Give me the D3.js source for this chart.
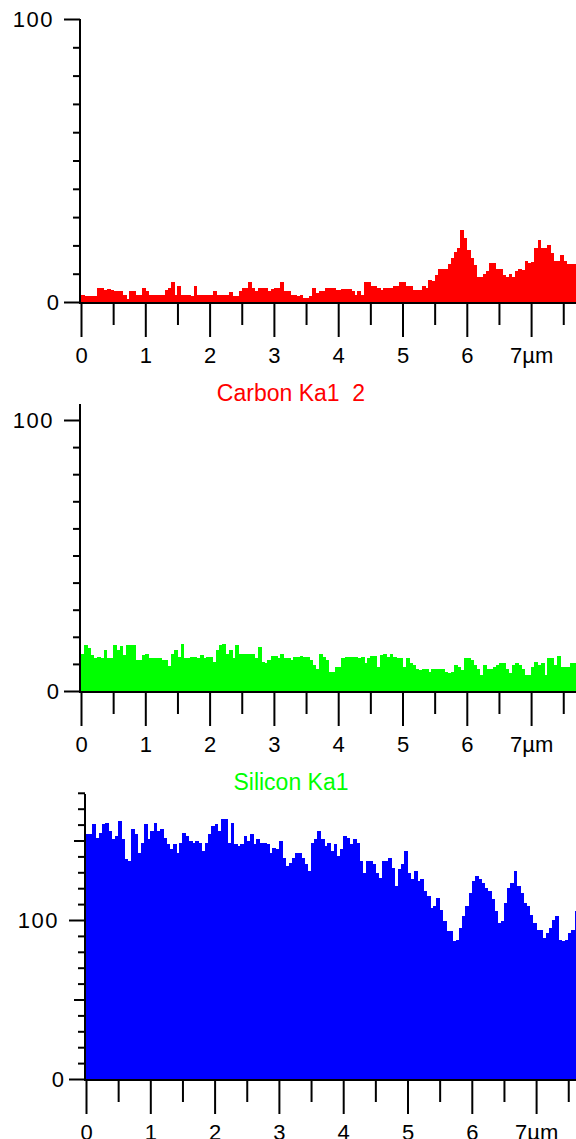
<!DOCTYPE html>
<html><head><meta charset="utf-8">
<script src="https://cdn.jsdelivr.net/npm/d3@7"></script>
<style>html,body{margin:0;padding:0;background:#fff;} svg{display:block;}</style>
</head><body>
<script>
// ---- data ----
const xStep = 0.05; // µm between samples
const xTickValues = [0,0.5,1,1.5,2,2.5,3,3.5,4,4.5,5,5.5,6,6.5,7,7.5];
const xTickLabels = ["0","1","2","3","4","5","6","7µm"];
const titles = ["Carbon Ka1  2", "Silicon Ka1"];

const carbonValues = [
2.6,2.0,2.0,2.0,2.0,4.9,4.9,4.3,4.7,4.3,4.0,4.0,4.0,2.6,1.2,4.0,4.0,2.6,2.6,4.9,
4.0,2.6,2.6,2.6,2.6,2.6,4.3,4.9,7.0,2.6,5.5,2.6,2.6,2.6,2.0,5.5,2.6,2.6,2.6,2.6,
2.6,4.0,2.6,2.6,2.6,2.6,3.7,2.0,2.0,4.0,4.9,4.9,7.0,4.9,4.0,4.9,4.9,4.9,4.0,4.7,
4.9,4.9,7.0,4.0,4.0,2.6,2.6,2.2,2.6,1.4,1.4,2.0,4.9,3.2,4.0,4.0,4.9,
4.9,4.9,4.1,4.1,4.7,4.7,4.7,3.8,2.6,4.0,2.6,7.0,7.0,5.5,5.5,4.9,4.1,4.9,4.9,4.9,
5.5,5.5,7.0,7.0,5.5,5.5,4.1,4.1,4.1,5.5,4.9,7.9,7.3,9.6,11.7,11.7,11.7,13.4,15.5,17.8,
19.0,25.5,22.5,18.4,15.5,13.1,8.7,8.7,9.9,11.0,13.7,13.7,11.7,11.7,9.6,8.7,9.9,8.7,10.8,11.7,
11.3,14.6,13.7,14.3,19.0,22.0,19.0,19.0,20.0,17.3,14.6,14.6,16.7,14.6,13.4,13.4,13.4,13.4
];

const siliconValues = [
13.6,16.9,15.7,13.2,12.0,12.6,12.0,15.1,12.0,12.0,16.9,15.1,16.5,13.2,16.9,16.9,16.9,11.4,11.4,13.2,
13.6,12.0,12.0,12.0,12.0,11.4,11.4,9.2,13.8,15.1,12.6,17.5,12.0,12.0,12.6,12.6,12.0,13.2,12.0,12.6,
12.6,10.8,15.1,16.9,17.5,13.8,15.1,12.0,16.9,13.6,13.6,13.6,13.8,13.8,12.0,16.3,10.8,10.2,11.4,12.9,
12.9,12.0,13.6,12.0,12.0,11.6,12.6,12.6,12.9,12.6,12.6,11.4,9.6,8.3,13.6,12.6,11.4,
7.1,7.1,8.9,8.9,12.0,12.6,12.6,12.6,12.6,12.0,
12.6,10.2,12.0,12.9,12.9,8.9,13.2,13.6,12.6,13.6,
12.6,12.0,12.0,8.9,12.0,10.2,9.6,8.3,7.7,8.0,
8.0,7.1,8.0,8.0,8.0,8.0,7.1,6.5,7.1,9.6,
8.9,7.7,12.0,12.0,11.4,9.6,8.0,5.9,9.6,8.0,
8.0,8.9,9.6,10.2,10.2,8.0,6.5,9.6,10.2,9.6,
8.0,5.9,5.9,8.9,10.8,9.6,10.2,5.9,12.0,12.0,
9.6,12.9,8.7,8.9,8.9,10.2,10.2,10.2
];

const thirdValues = [
153.9,153.9,160.2,151.8,155.0,160.2,161.3,156.0,150.8,152.9,
162.3,150.8,138.1,137.1,157.1,153.9,142.4,148.7,160.2,150.8,
156.0,161.3,156.0,157.1,151.8,147.6,144.5,147.6,142.4,148.7,
155.0,152.9,149.7,148.7,149.7,148.7,143.4,148.7,153.9,159.2,
160.2,156.0,163.4,163.4,148.7,161.3,147.6,146.6,147.6,152.9,
149.7,153.9,147.6,150.8,148.7,148.7,147.6,142.4,145.5,144.5,
149.7,139.2,133.9,136.0,139.2,142.4,142.4,139.2,135.0,130.8,
148.7,150.8,156.0,150.8,146.6,148.7,143.4,147.6,140.2,144.5,
152.9,151.8,147.6,150.8,148.7,137.1,129.7,137.1,137.1,135.0,
129.7,126.6,137.1,137.1,139.2,132.9,121.3,131.8,135.0,143.4,
129.7,125.5,130.8,124.5,125.5,118.2,115.0,107.7,108.7,114.0,
106.6,99.2,92.9,92.9,86.6,87.7,95.0,102.4,108.7,117.1,
124.5,127.6,125.5,123.4,120.3,118.2,112.9,105.5,98.2,99.2,
110.8,120.3,123.4,130.8,121.3,117.1,110.8,108.7,103.4,98.2,
94.0,94.0,88.7,91.9,95.0,100.3,102.4,87.7,86.6,87.7,
91.9,94.0,105.5,115.0
];

// ---- layout ----
const W = 576, H = 1139;
const FONT = "'Liberation Sans', Arial, sans-serif";
const svg = d3.select("body").append("svg").attr("width", W).attr("height", H);
svg.append("rect").attr("width", W).attr("height", H).attr("fill", "#fff");

const panels = [
  { values: carbonValues, color: "#ff0000", axisX: 80, x0: 81, yBase: 302, y100: 19, axisTop: 19, yMax: 100, labelTicks: [0,100], medTicks: [] },
  { values: siliconValues, color: "#00ff00", axisX: 80, x0: 81, yBase: 691, y100: 420, axisTop: 404, yMax: 100, labelTicks: [0,100], medTicks: [] },
  { values: thirdValues, color: "#0000ff", axisX: 85, x0: 86, yBase: 1079, y100: 920, axisTop: 794, yMax: 180, labelTicks: [0,100], medTicks: [50,150] }
];
const pxPerUm = 64.3;

panels.forEach((p, pi) => {
  const g = svg.append("g");
  const x = d3.scaleLinear().domain([0, 7.5]).range([p.x0, p.x0 + 7.5 * pxPerUm]);
  const y = d3.scaleLinear().domain([0, 100]).range([p.yBase, p.y100]);

  // stepped profile as thin bars
  g.append("g").selectAll("rect").data(p.values).join("rect")
    .attr("x", (d, i) => x(i * xStep))
    .attr("width", (d, i) => x((i + 1) * xStep) - x(i * xStep) + 0.6)
    .attr("y", d => y(d))
    .attr("height", d => p.yBase - y(d))
    .attr("fill", p.color)
    .attr("shape-rendering", "crispEdges");

  const yt = d3.range(0, p.yMax + 1, 10);
  // minor y ticks
  g.append("g").attr("transform", `translate(${p.axisX},0)`)
    .call(d3.axisLeft(y).tickValues(yt.filter(v => !p.labelTicks.includes(v) && !p.medTicks.includes(v))).tickSize(7).tickFormat(""))
    .call(s => s.select(".domain").remove());
  if (p.medTicks.length) {
    g.append("g").attr("transform", `translate(${p.axisX},0)`)
      .call(d3.axisLeft(y).tickValues(p.medTicks).tickSize(11).tickFormat(""))
      .call(s => s.select(".domain").remove());
  }
  // major y ticks with labels
  const ya = g.append("g").attr("transform", `translate(${p.axisX},0)`)
    .call(d3.axisLeft(y).tickValues(p.labelTicks).tickSize(16).tickPadding(5).tickFormat(d3.format("d")))
    .call(s => s.select(".domain").remove());
  ya.selectAll("text").attr("font-size", 22).attr("font-family", FONT).attr("fill", "#000")
    .attr("letter-spacing", d => d >= 100 ? 1.5 : 0)
    .attr("dx", d => d >= 100 ? -5 : 0);

  // y axis line
  g.append("line").attr("x1", p.axisX).attr("x2", p.axisX).attr("y1", p.axisTop).attr("y2", p.yBase + 1)
    .attr("stroke", "#000").attr("stroke-width", 2);

  // x axis minor ticks
  g.append("g").attr("transform", `translate(0,${p.yBase})`)
    .call(d3.axisBottom(x).tickValues(xTickValues.filter(v => v % 1 !== 0)).tickSize(23).tickFormat(""))
    .call(s => s.select(".domain").remove());
  // x axis major ticks with labels
  const xa = g.append("g").attr("transform", `translate(0,${p.yBase})`)
    .call(d3.axisBottom(x).tickValues(xTickValues.filter(v => v % 1 === 0)).tickSize(35).tickPadding(10)
      .tickFormat((d, i) => xTickLabels[i]))
    .call(s => s.select(".domain").remove());
  xa.selectAll("text").attr("font-size", 22).attr("font-family", FONT).attr("fill", "#000");

  // x axis line
  g.append("line").attr("x1", p.axisX - 1).attr("x2", W).attr("y1", p.yBase + 1).attr("y2", p.yBase + 1)
    .attr("stroke", "#000").attr("stroke-width", 2);

  g.selectAll(".tick line").attr("stroke", "#000").attr("stroke-width", 2);
});

// element titles
const titleY = [393, 782];
const titleColors = ["#ff0000", "#00ff00"];
titles.forEach((t, i) => {
  svg.append("text").attr("x", 291).attr("y", titleY[i])
    .attr("text-anchor", "middle").attr("dominant-baseline", "central")
    .attr("font-size", 23).attr("font-family", FONT)
    .attr("fill", titleColors[i]).style("white-space", "pre")
    .text(t);
});

// the reference image is cropped just above the top "100" label
svg.append("rect").attr("x", 0).attr("y", 0).attr("width", 60).attr("height", 12).attr("fill", "#fff");
</script>
</body></html>
